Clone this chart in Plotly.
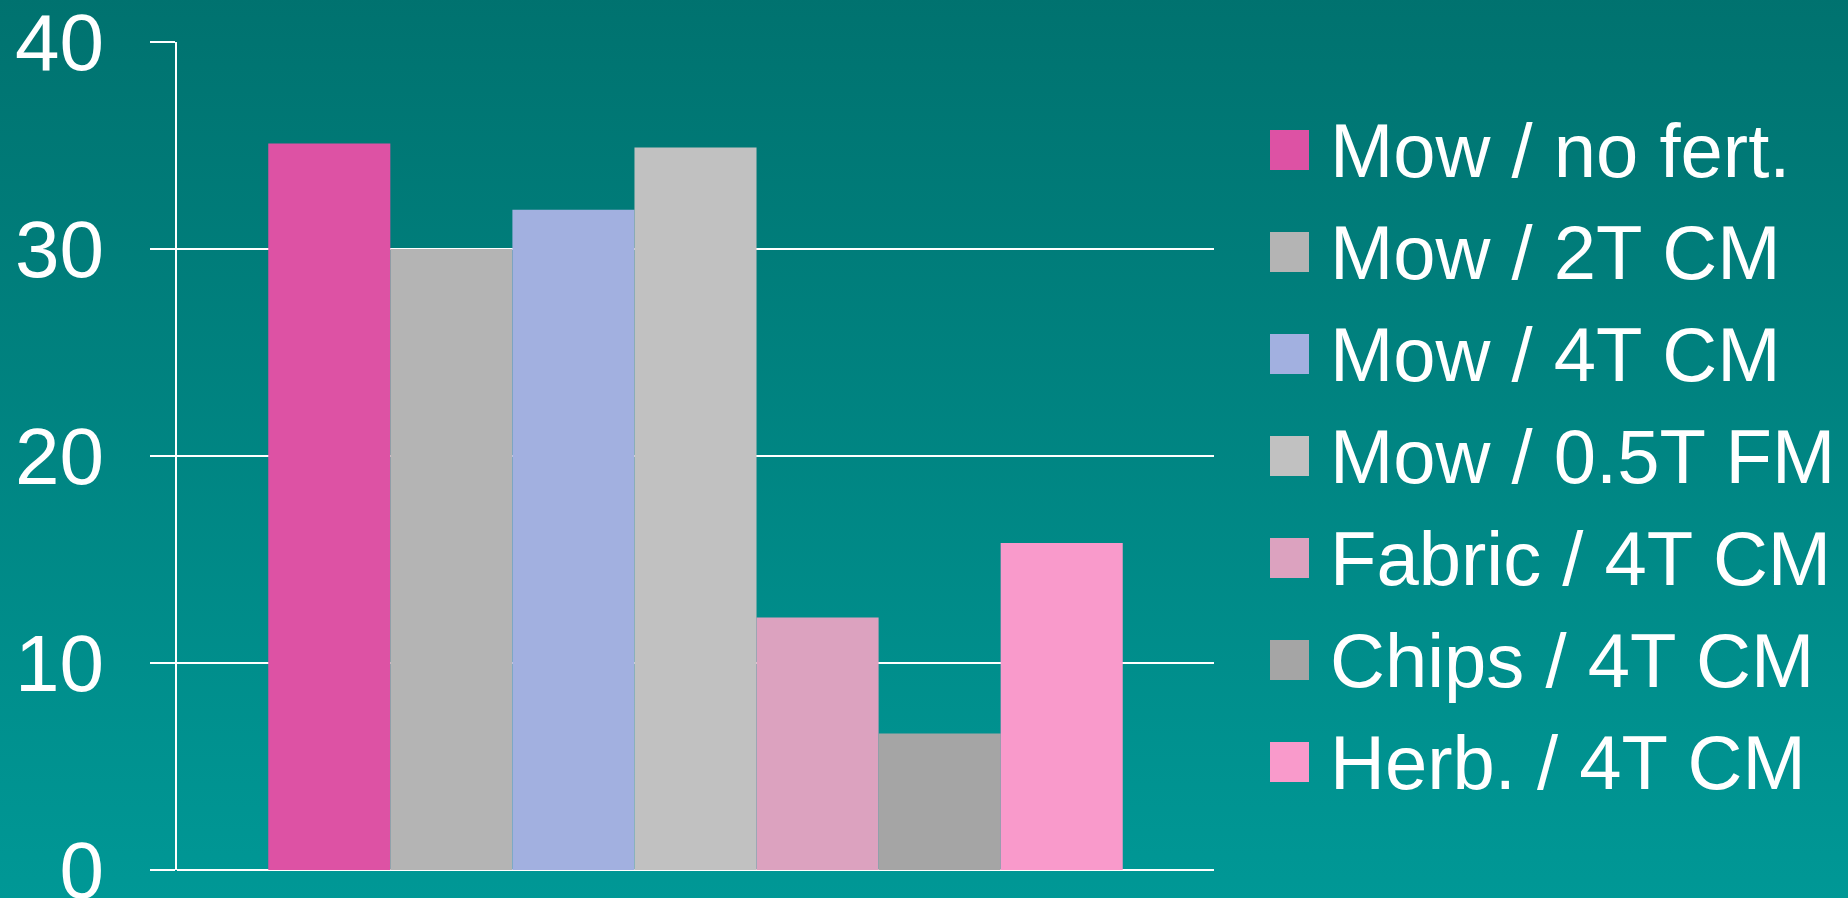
import base64
import plotly.graph_objects as go

# ---- data ----
series_names = ["Mow / no fert.", "Mow / 2T CM", "Mow / 4T CM", "Mow / 0.5T FM",
                "Fabric / 4T CM", "Chips / 4T CM", "Herb. / 4T CM"]
series_values = [35.1, 30.0, 31.9, 34.9, 12.2, 6.6, 15.8]
series_colors = ["#DD52A4", "#B4B4B4", "#A2B0E0", "#C1C1C1", "#DCA2BF", "#A5A5A5", "#F99ACB"]
category = [""]
y_ticks = [0, 10, 20, 30, 40]

W, H = 1848, 898
L, R, T, B = 177, 1214, 42, 870  # plot area in pixels
pw, ph = R - L, B - T

def px_x(x):
    return (x - L) / pw

def px_y(y):
    return (B - y) / ph

fig = go.Figure()
for name, val, col in zip(series_names, series_values, series_colors):
    fig.add_trace(go.Bar(x=category, y=[val], name=name, marker_color=col,
                         marker_line_width=0, showlegend=False))

# gradient background
svg = ('<svg xmlns="http://www.w3.org/2000/svg" width="100" height="100" viewBox="0 0 100 100" '
       'preserveAspectRatio="none">'
       '<defs><linearGradient id="g" x1="0" y1="0" x2="0" y2="1">'
       '<stop offset="0" stop-color="#00726F"/><stop offset="1" stop-color="#009896"/>'
       '</linearGradient></defs><rect x="0" y="0" width="100" height="100" fill="url(#g)"/></svg>')
src = "data:image/svg+xml;base64," + base64.b64encode(svg.encode()).decode()
fig.add_layout_image(dict(source=src, xref="paper", yref="paper",
                          x=px_x(-5), y=px_y(-5), sizex=(W + 10) / pw, sizey=(H + 10) / ph,
                          xanchor="left", yanchor="top", sizing="stretch", layer="below"))

# custom legend
row0, step = 150, 102
for i, (name, col) in enumerate(zip(series_names, series_colors)):
    cy = row0 + i * step
    fig.add_shape(type="rect", xref="paper", yref="paper",
                  x0=px_x(1270), x1=px_x(1309), y0=px_y(cy - 20), y1=px_y(cy + 20),
                  fillcolor=col, line_width=0)
    fig.add_annotation(text=name, xref="paper", yref="paper", x=px_x(1328), y=px_y(cy),
                       xanchor="left", yanchor="middle", showarrow=False,
                       font=dict(family="Liberation Sans, Arial", size=76, color="white"))

fig.update_layout(
    width=W, height=H,
    margin=dict(l=L, r=W - R, t=T, b=H - B, pad=0, autoexpand=False),
    paper_bgcolor="#00847F", plot_bgcolor="rgba(0,0,0,0)",
    barmode="group", bargap=0.176, bargroupgap=0,
    xaxis=dict(showticklabels=False, showgrid=False, zeroline=False, showline=False,
               ticks="", automargin=False),
    yaxis=dict(range=[0, 40], tickvals=y_ticks, ticktext=[str(v) for v in y_ticks],
               automargin=False, ticklabeloverflow="allow",
               showgrid=True, gridcolor="white", gridwidth=2,
               zeroline=True, zerolinecolor="white", zerolinewidth=2,
               showline=True, linecolor="white", linewidth=2,
               ticks="outside", ticklen=25, tickwidth=2, tickcolor="white",
               ticklabelstandoff=30,
               tickfont=dict(family="Liberation Sans, Arial", size=80, color="white")),
    font=dict(family="Liberation Sans, Arial", color="white"),
)

fig.write_html("out.html")
